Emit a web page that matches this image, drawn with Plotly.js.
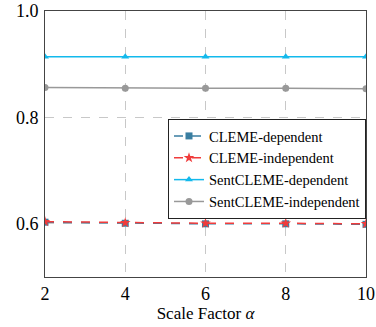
<!DOCTYPE html>
<html><head><meta charset="utf-8">
<script src="https://cdn.plot.ly/plotly-3.0.1.min.js"></script>
<style>html,body{margin:0;padding:0;background:#fff}</style>
</head><body>
<div id="chart" style="width:376px;height:327px"></div>
<script>
const scaleFactors = [2, 4, 6, 8, 10];
const clemeDependent = [0.603, 0.601, 0.600, 0.600, 0.599];
const clemeIndependent = [0.604, 0.602, 0.601, 0.601, 0.600];
const sentDependent = [0.914, 0.914, 0.914, 0.914, 0.914];
const sentIndependent = [0.856, 0.855, 0.855, 0.855, 0.854];
const seriesNames = ['CLEME-dependent', 'CLEME-independent', 'SentCLEME-dependent', 'SentCLEME-independent'];

const traces = [
  {x: scaleFactors, y: clemeDependent, name: seriesNames[0], mode: 'lines+markers',
   line: {color: '#3a7ea1', dash: 'dash', width: 1.5}, marker: {symbol: 'square', size: 7, color: '#3a7ea1'}},
  {x: scaleFactors, y: clemeIndependent, name: seriesNames[1], mode: 'lines+markers',
   line: {color: '#f03c3c', dash: 'dash', width: 1.5}, marker: {symbol: 'star', size: 8, color: '#f03c3c'}},
  {x: scaleFactors, y: sentDependent, name: seriesNames[2], mode: 'lines+markers',
   line: {color: '#13b9ec', width: 1.5}, marker: {symbol: 'triangle-up', size: 7, color: '#13b9ec'}},
  {x: scaleFactors, y: sentIndependent, name: seriesNames[3], mode: 'lines+markers',
   line: {color: '#999999', width: 1.5}, marker: {symbol: 'circle', size: 7, color: '#999999'}}
];

const serif = "Liberation Serif";
const layout = {
  width: 376, height: 327,
  margin: {l: 45, r: 10, t: 11, b: 50},
  paper_bgcolor: '#fff', plot_bgcolor: '#fff',
  font: {family: serif, size: 16, color: '#000'},
  showlegend: true,
  legend: {x: 1, xanchor: 'right', y: 0.594, yanchor: 'top', bordercolor: '#222', borderwidth: 1,
           bgcolor: '#fff', font: {family: serif, size: 14.5, color: '#000'}, tracegroupgap: 0, itemwidth: 30},
  xaxis: {range: [2, 10], tickvals: scaleFactors, ticktext: scaleFactors.map(String),
          showgrid: true, gridcolor: '#c8c8c8', griddash: 'dash', gridwidth: 1,
          showline: true, linecolor: '#444', linewidth: 1, mirror: true, zeroline: false,
          ticks: '', tickfont: {family: serif, size: 18},
          title: {text: 'Scale Factor <i>α</i>', font: {family: serif, size: 17}, standoff: 4}},
  yaxis: {range: [0.5, 1.0], tickvals: [0.6, 0.8, 1.0], ticktext: ['0.6', '0.8', '1.0'],
          showgrid: true, gridcolor: '#c8c8c8', griddash: 'dash', gridwidth: 1,
          showline: true, linecolor: '#444', linewidth: 1, mirror: true, zeroline: false,
          ticks: '', ticklabelstandoff: 2, tickfont: {family: serif, size: 18}}
};

Plotly.newPlot('chart', traces, layout, {displayModeBar: false, staticPlot: true});
</script>
</body></html>
